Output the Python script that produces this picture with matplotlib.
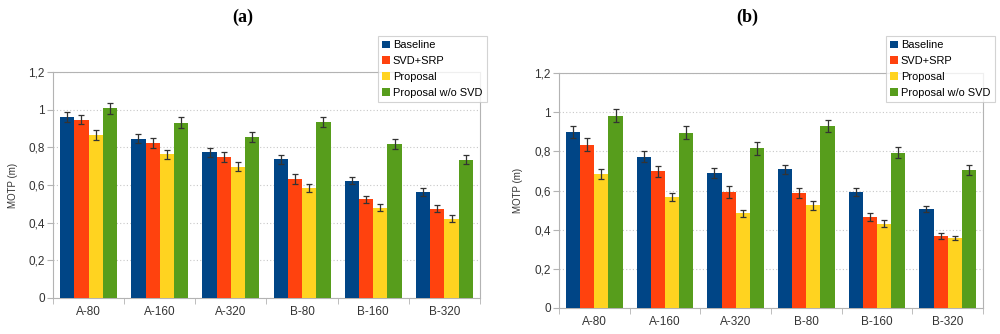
import matplotlib
matplotlib.use('agg')
import matplotlib.pyplot as plt
import numpy as np

categories = ['A-80', 'A-160', 'A-320', 'B-80', 'B-160', 'B-320']
series = ['Baseline', 'SVD+SRP', 'Proposal', 'Proposal w/o SVD']
colors = ['#004586', '#ff420e', '#ffd320', '#579d1c']

# panel (a)
a_baseline = [0.963, 0.845, 0.773, 0.736, 0.623, 0.563]
a_svd = [0.948, 0.824, 0.750, 0.630, 0.524, 0.475]
a_proposal = [0.866, 0.764, 0.697, 0.584, 0.480, 0.422]
a_nosvd = [1.008, 0.932, 0.854, 0.935, 0.820, 0.734]
a_err_baseline = [0.027, 0.024, 0.023, 0.025, 0.018, 0.019]
a_err_svd = [0.026, 0.026, 0.026, 0.026, 0.020, 0.019]
a_err_proposal = [0.026, 0.024, 0.024, 0.022, 0.019, 0.018]
a_err_nosvd = [0.029, 0.028, 0.027, 0.028, 0.026, 0.023]

# panel (b)
b_baseline = [0.900, 0.774, 0.688, 0.708, 0.593, 0.504]
b_svd = [0.835, 0.698, 0.593, 0.589, 0.464, 0.368]
b_proposal = [0.684, 0.567, 0.484, 0.526, 0.431, 0.357]
b_nosvd = [0.983, 0.896, 0.815, 0.929, 0.793, 0.706]
b_err_baseline = [0.029, 0.030, 0.025, 0.025, 0.020, 0.016]
b_err_svd = [0.031, 0.029, 0.030, 0.026, 0.021, 0.015]
b_err_proposal = [0.024, 0.020, 0.018, 0.023, 0.017, 0.010]
b_err_nosvd = [0.034, 0.032, 0.031, 0.030, 0.027, 0.025]

plt.rcParams['font.family'] = ['Liberation Sans', 'DejaVu Sans']

fig = plt.figure(figsize=(10, 3.34), dpi=100)


def draw_panel(rect, vals, errs, title, title_x, legend_anchor, ylabel_x):
    ax = fig.add_axes(rect)
    x = np.arange(len(categories))
    w = 0.2
    for i, (v, e) in enumerate(zip(vals, errs)):
        ax.bar(x - 0.3 + i * w, v, w, color=colors[i], label=series[i],
               yerr=e, error_kw=dict(ecolor='#333333', elinewidth=0.9,
                                     capsize=2.5, capthick=0.9), zorder=3)
    ax.set_xlim(-0.5, len(categories) - 0.5)
    ax.set_ylim(0, 1.2)
    ax.set_yticks(np.arange(0, 1.21, 0.2))
    ax.set_yticklabels(['0', '0,2', '0,4', '0,6', '0,8', '1', '1,2'], fontsize=8.5, color='#333333')
    ax.set_xticks(x)
    ax.set_xticklabels(categories, fontsize=8.5, color='#333333')
    ax.tick_params(axis='x', length=0, pad=6)
    ax.set_xticks(np.arange(-0.5, len(categories)), minor=True)
    ax.tick_params(axis='x', which='minor', length=4, color='#b3b3b3')
    ax.tick_params(axis='y', length=4, color='#b3b3b3', pad=2)
    ax.yaxis.grid(True, linestyle=(0, (1, 2)), color='#c8c8c8', linewidth=0.8)
    ax.set_axisbelow(True)
    for s in ax.spines.values():
        s.set_color('#b3b3b3')
        s.set_linewidth(0.8)
    fig.text(ylabel_x, rect[1] + rect[3] / 2, 'MOTP (m)', rotation=90,
             fontsize=7, color='#333333', ha='center', va='center')
    fig.text(title_x, 0.949, title, fontsize=13, fontweight='bold',
             family='Liberation Serif', ha='center', va='center')
    leg = fig.legend(*ax.get_legend_handles_labels(), loc='upper left',
                     bbox_to_anchor=legend_anchor, fontsize=7.9, frameon=True,
                     fancybox=False, handlelength=0.7, handleheight=0.7,
                     handletextpad=0.25, borderpad=0.4, labelspacing=0.52,
                     borderaxespad=0)
    leg.get_frame().set_edgecolor('#c8c8c8')
    leg.get_frame().set_linewidth(0.8)
    return ax


draw_panel([0.053, 0.108, 0.427, 0.676],
           [a_baseline, a_svd, a_proposal, a_nosvd],
           [a_err_baseline, a_err_svd, a_err_proposal, a_err_nosvd],
           '(a)', 0.243, (0.378, 1 - 36 / 334), 0.013)
draw_panel([0.559, 0.078, 0.424, 0.703],
           [b_baseline, b_svd, b_proposal, b_nosvd],
           [b_err_baseline, b_err_svd, b_err_proposal, b_err_nosvd],
           '(b)', 0.747, (0.886, 1 - 36 / 334), 0.518)

fig.savefig('out.png', dpi=100)
